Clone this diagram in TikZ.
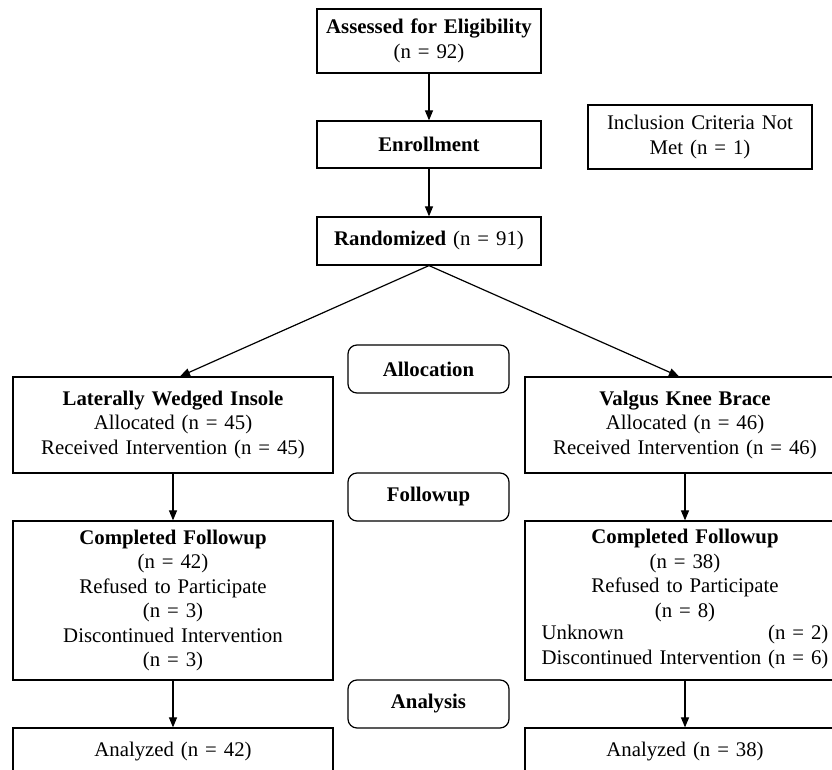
\documentclass[tikz,border=0pt]{standalone}
\usepackage{fontspec}
\setmainfont{Liberation Serif}
\usetikzlibrary{arrows.meta}

\begin{document}
\begin{tikzpicture}[x=1pt,y=1pt,line width=1.2pt,
    box/.style={draw,inner sep=0pt,align=center},
    phase/.style={draw,rounded corners=9pt,inner sep=0pt,minimum width=161pt,minimum height=48pt,font=\bfseries},
    >={Triangle[length=10pt,width=8pt]}]
    \clip (0,0) rectangle (832,770);
    \fontsize{20.8}{24.5}\selectfont
    \node[box,text width=224pt,minimum height=64pt] (assess) at (429,729) {\textbf{Assessed for Eligibility}\\(n = 92)};
    \node[box,text width=224pt,minimum height=47pt] (enroll) at (429,625.5) {\textbf{Enrollment}};
    \node[box,text width=224pt,minimum height=48pt] (random) at (429,529) {\textbf{Randomized} (n = 91)};
    \node[box,text width=224pt,minimum height=64pt] (incl) at (700,633) {Inclusion Criteria Not\\Met (n = 1)};
    \node[phase] (alloc) at (428.5,401) {Allocation};
    \node[phase] (follow) at (428.5,273) {Followup};
    \node[phase] (analysis) at (428.5,66) {Analysis};
    \node[box,text width=320pt,minimum height=96pt] (lwi) at (173,345) {\textbf{Laterally Wedged Insole}\\Allocated (n = 45)\\Received Intervention (n = 45)};
    \node[box,text width=320pt,minimum height=96pt] (vkb) at (685,345) {\textbf{Valgus Knee Brace}\\Allocated (n = 46)\\Received Intervention (n = 46)};
    \node[box,text width=320pt,minimum height=159pt] (compL) at (173,169.5) {\textbf{Completed Followup}\\(n = 42)\\Refused to Participate\\(n = 3)\\Discontinued Intervention\\(n = 3)};
    \node[box,text width=320pt,minimum height=159pt] (compR) at (685,169.5) {\textbf{Completed Followup}\\(n = 38)\\Refused to Participate\\(n = 8)\\\begin{tabular}{@{}l@{\ }r@{}}Unknown&(n = 2)\\Discontinued Intervention&(n = 6)\end{tabular}};
    \node[box,text width=320pt,minimum height=48pt] (anaL) at (173,18) {Analyzed (n = 42)};
    \node[box,text width=320pt,minimum height=48pt] (anaR) at (685,18) {Analyzed (n = 38)};
    \draw[->] (assess) -- (enroll);
    \draw[->] (enroll) -- (random);
    \draw[->] (random.south) -- ([xshift=7pt]lwi.north);
    \draw[->] (random.south) -- ([xshift=-6pt]vkb.north);
    \draw[->] (lwi) -- (compL);
    \draw[->] (vkb) -- (compR);
    \draw[->] (compL) -- (anaL);
    \draw[->] (compR) -- (anaR);
\end{tikzpicture}
\end{document}
